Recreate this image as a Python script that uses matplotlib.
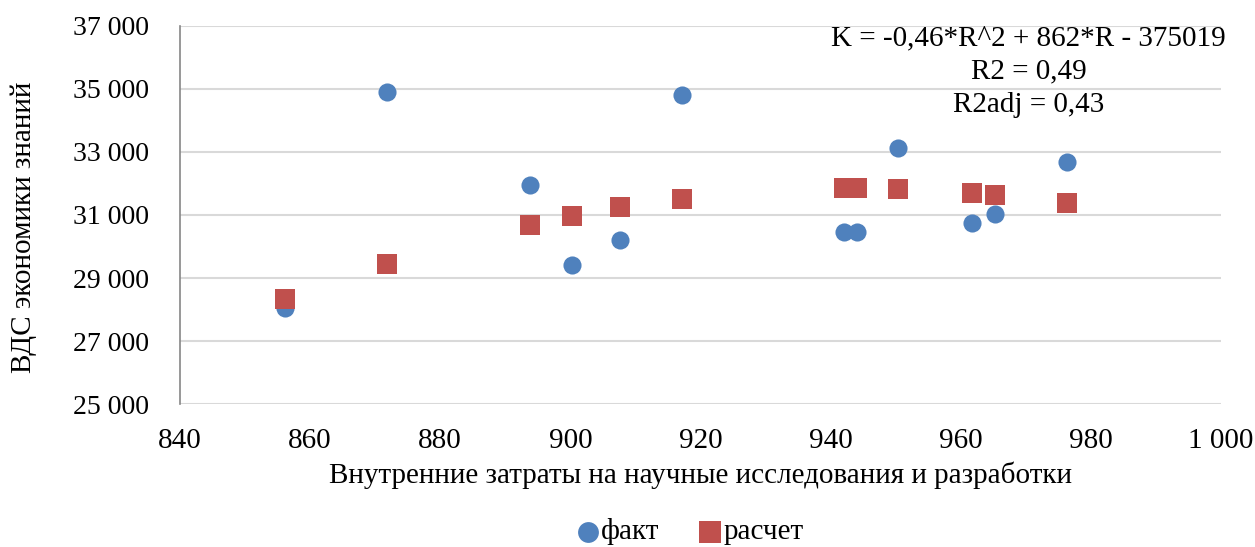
import matplotlib.pyplot as plt
import matplotlib.ticker as mticker

plt.rcParams['font.family'] = ['Liberation Serif', 'DejaVu Serif']

# внутренние затраты на НИОКР
rd = [856.2, 871.8, 893.8, 900.3, 907.7, 917.1, 942.0, 944.0, 950.3, 961.7, 965.3, 976.3]
# ВДС экономики знаний: факт и расчет
fact = [28040, 34910, 31950, 29410, 30200, 34820, 30470, 30450, 33120, 30740, 31020, 32690]
calc = [28320, 29450, 30680, 30970, 31240, 31510, 31850, 31850, 31820, 31700, 31630, 31370]

eq_lines = ['K = -0,46*R^2 + 862*R - 375019', 'R2 = 0,49', 'R2adj = 0,43']

blue = '#4F81BD'
red = '#C0504D'

fig = plt.figure(figsize=(12.55, 5.47), dpi=100)
ax = fig.add_axes([0.1434, 0.2614, 0.8295, 0.6911])

ax.scatter(rd, fact, s=170, marker='o', color=blue, label='факт', zorder=3, linewidths=0)
ax.scatter(rd, calc, s=200, marker='s', color=red, label='расчет', zorder=3, linewidths=0)

ax.set_xlim(840, 1000)
ax.set_ylim(25000, 37000)
ax.set_xticks(range(840, 1001, 20))
ax.set_yticks(range(25000, 37001, 2000))

fmt = mticker.FuncFormatter(lambda v, p: f'{int(v):,}'.replace(',', ' '))
ax.xaxis.set_major_formatter(fmt)
ax.yaxis.set_major_formatter(fmt)

ax.grid(True, axis='y', color='#D9D9D9', linewidth=1.5)
ax.set_axisbelow(True)
for side in ['top', 'right', 'bottom']:
    ax.spines[side].set_visible(False)
ax.spines['left'].set_color('#868686')
ax.spines['left'].set_linewidth(1.2)
ax.tick_params(axis='y', length=0, labelsize=20, pad=22)
ax.tick_params(axis='x', length=0, labelsize=21, pad=17)

ax.set_xlabel('Внутренние затраты на научные исследования и разработки', fontsize=21, labelpad=6)
ax.set_ylabel('ВДС экономики знаний', fontsize=21)
ax.yaxis.set_label_coords(-0.137, 0.468)

for i, line in enumerate(eq_lines):
    ax.text(0.815, 0.968 - i * 0.088, line, transform=ax.transAxes,
            ha='center', va='center', fontsize=21)

fig.legend(handles=ax.collections, labels=['факт', 'расчет'], loc='center',
           bbox_to_anchor=(0.549, 0.028), ncol=2, frameon=False, fontsize=21,
           handletextpad=0.0, handlelength=0.9, columnspacing=1.3, markerscale=1.15)

fig.savefig('out.png', dpi=100)
